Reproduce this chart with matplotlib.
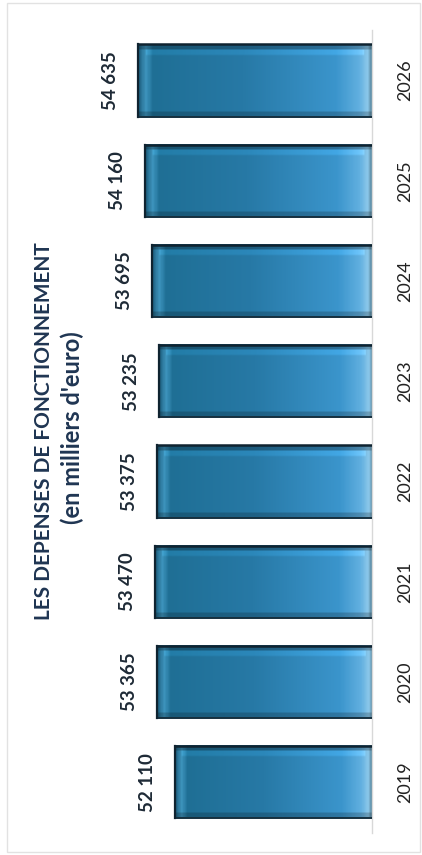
import numpy as np
import matplotlib
matplotlib.use('Agg')
import matplotlib.pyplot as plt
from matplotlib.patches import Rectangle
from matplotlib.colors import LinearSegmentedColormap

plt.rcParams['font.family'] = ['Lato', 'DejaVu Sans']

years = [2019, 2020, 2021, 2022, 2023, 2024, 2025, 2026]
depenses = [52110, 53365, 53470, 53375, 53235, 53695, 54160, 54635]
labels = ['52 110', '53 365', '53 470', '53 375', '53 235', '53 695', '54 160', '54 635']
titre = 'LES DEPENSES DE FONCTIONNEMENT'
sous_titre = "(en milliers d'euro)"

W, H = 422, 855
fig = plt.figure(figsize=(W / 100, H / 100), dpi=100)
fig.patch.set_facecolor('white')

# axes placed in pixels: value axis runs right-to-left, baseline on the right
x0, x1 = 20, 372
y_top, y_bot = 30.4, 832.5
ax = fig.add_axes([x0 / W, (H - y_bot) / H, (x1 - x0) / W, (y_bot - y_top) / H])
ax.set_xlim(62700, 38700)
ax.set_ylim(2018.5, 2026.5)

bars = ax.barh(years, depenses, height=0.72, left=0, color='none', edgecolor='none')

# bevelled gradient fill for each bar
cmap = LinearSegmentedColormap.from_list('bev', [
    (0.00, '#1d5f7f'), (0.03, '#3f96bf'), (0.06, '#1f6f95'),
    (0.45, '#2779a6'), (0.85, '#3b95cc'), (0.95, '#62b0e0'),
    (0.985, '#8cc8ea'), (1.00, '#5f8fa8')])
grad = np.linspace(0, 1, 300)
rows = np.ones(40)
img = cmap(np.outer(rows, grad))
# darker shading at the top and bottom edges of the bevel
img[:3, :, :3] *= 0.75
img[-3:, :, :3] *= 0.8
img[3:6, 10:-10, :3] = np.clip(img[3:6, 10:-10, :3] * 1.12, 0, 1)

base = ax.get_xlim()[1]
for bar, val in zip(bars, depenses):
    y = bar.get_y()
    h = bar.get_height()
    ax.imshow(img, extent=(val, base, y, y + h), aspect='auto',
              interpolation='bilinear', zorder=2)
    ax.plot([val, base], [y + h, y + h], color='#0f2330', lw=1.8, zorder=3,
            solid_capstyle='butt')
    ax.plot([val, base], [y, y], color='#16303f', lw=1.4, zorder=3,
            solid_capstyle='butt')
    ax.plot([val, val], [y, y + h], color='#0f2330', lw=1.6, zorder=3)

for val, yr, lbl in zip(depenses, years, labels):
    ax.annotate(lbl, xy=(val, yr), xytext=(-19, 0), textcoords='offset pixels',
                rotation=90, ha='right', va='center', fontsize=13.5,
                fontweight='bold', color='#1e2a36')

ax.set_yticks(years)
ax.set_yticklabels([str(y) for y in years], rotation=90, va='center', ha='left',
                   fontsize=13, color='#222222')
ax.yaxis.tick_right()
ax.tick_params(axis='y', length=0, pad=18)
ax.set_xticks([])
for side in ['left', 'top', 'bottom']:
    ax.spines[side].set_visible(False)
ax.spines['right'].set_color('#d8d8d8')
ax.spines['right'].set_linewidth(1.0)

fig.text(44 / W, 1 - 431 / H, titre, rotation=90, ha='center', va='center',
         fontsize=15, fontweight='bold', color='#1f3552')
fig.text(72 / W, 1 - 428 / H, sous_titre, rotation=90, ha='center', va='center',
         fontsize=17, fontweight='bold', color='#1f3552')

# thin frame around the chart
fig.add_artist(Rectangle((7 / W, 3 / H), (W - 9) / W, (H - 6) / H,
                         transform=fig.transFigure, fill=False,
                         edgecolor='#e2e2e2', lw=1.0))

fig.savefig('out.png', dpi=100)
